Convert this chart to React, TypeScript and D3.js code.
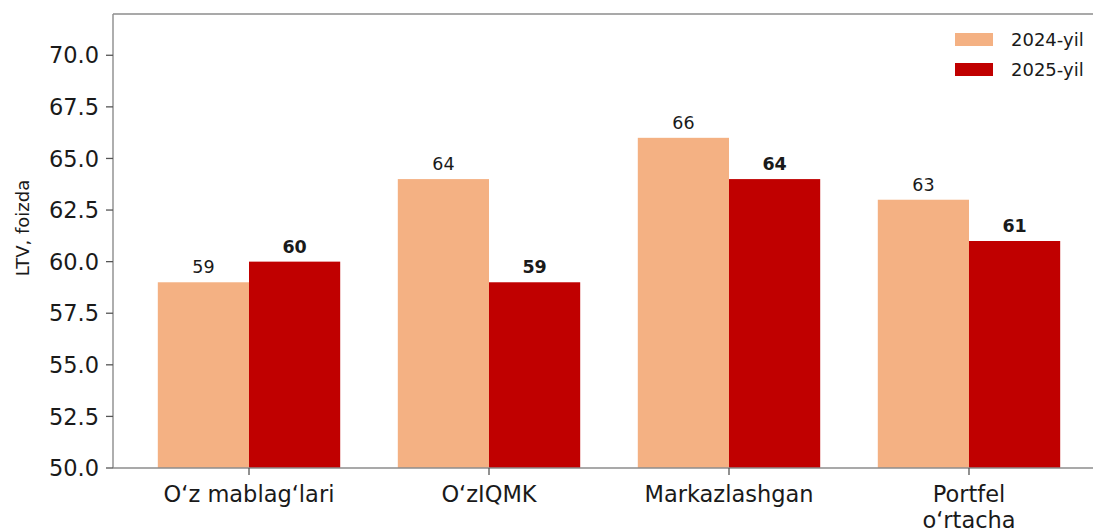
import * as d3 from 'd3';

const categories = ['O‘z mablag‘lari', 'O‘zIQMK', 'Markazlashgan', 'Portfel\no‘rtacha'];
const seriesNames = ['2024-yil', '2025-yil'];
const values2024 = [59, 64, 66, 63];
const values2025 = [60, 59, 64, 61];
const yTicks = [50, 52.5, 55, 57.5, 60, 62.5, 65, 67.5, 70];

const colors = ['#F4B183', '#C00000'];
const font = '"DejaVu Sans", sans-serif';

const width = 1093;
const height = 529;
const plot = { left: 113, right: 1105, top: 14, bottom: 468 };

export default function App() {
  const x = d3
    .scaleBand<string>()
    .domain(categories)
    .range([plot.left, plot.right])
    .paddingInner(0)
    .paddingOuter(0.0667);

  const step = x.step();
  const inner = d3
    .scaleBand<string>()
    .domain(seriesNames)
    .range([-0.38 * step, 0.38 * step]);

  const y = d3.scaleLinear().domain([50, 72]).range([plot.bottom, plot.top]);
  const fmt = d3.format('.1f');

  const series = [values2024, values2025];

  return (
    <svg
      width={width}
      height={height}
      style={{ position: 'absolute', left: 0, top: 0, background: '#fff' }}
      fontFamily={font}
    >
      {/* bars */}
      {series.map((vals, si) =>
        categories.map((c, i) => {
          const cx = (x(c) || 0) + step / 2;
          const bx = cx + (inner(seriesNames[si]) || 0);
          return (
            <rect
              key={`b${si}-${i}`}
              x={bx}
              y={y(vals[i])}
              width={inner.bandwidth()}
              height={plot.bottom - y(vals[i])}
              fill={colors[si]}
            />
          );
        })
      )}

      {/* value labels */}
      {series.map((vals, si) =>
        categories.map((c, i) => {
          const cx = (x(c) || 0) + step / 2;
          const bx = cx + (inner(seriesNames[si]) || 0) + inner.bandwidth() / 2;
          return (
            <text
              key={`l${si}-${i}`}
              x={bx}
              y={y(vals[i]) - 9}
              textAnchor="middle"
              fontSize={17.5}
              fontWeight={si === 1 ? 'bold' : 'normal'}
              fill="#1a1a1a"
            >
              {vals[i]}
            </text>
          );
        })
      )}

      {/* spines */}
      <line x1={plot.left} x2={plot.left} y1={plot.top} y2={plot.bottom} stroke="#8c8c8c" strokeWidth={1.4} />
      <line x1={plot.left} x2={plot.right} y1={plot.bottom} y2={plot.bottom} stroke="#8c8c8c" strokeWidth={1.4} />
      <line x1={plot.left} x2={plot.right} y1={plot.top} y2={plot.top} stroke="#8c8c8c" strokeWidth={1.4} />
      <line x1={plot.right} x2={plot.right} y1={plot.top} y2={plot.bottom} stroke="#8c8c8c" strokeWidth={1.4} />

      {/* y axis */}
      {yTicks.map((t) => (
        <g key={`yt${t}`}>
          <line x1={plot.left - 7} x2={plot.left} y1={y(t)} y2={y(t)} stroke="#555" strokeWidth={1.3} />
          <text x={plot.left - 14} y={y(t)} dy="0.36em" textAnchor="end" fontSize={22.5} fill="#1a1a1a">
            {fmt(t)}
          </text>
        </g>
      ))}
      <text
        transform={`translate(29,228) rotate(-90)`}
        textAnchor="middle"
        fontSize={18}
        fill="#1a1a1a"
      >
        LTV, foizda
      </text>

      {/* x axis */}
      {categories.map((c) => {
        const cx = (x(c) || 0) + step / 2;
        const lines = c.split('\n');
        return (
          <g key={`xt${c}`}>
            <line x1={cx} x2={cx} y1={plot.bottom} y2={plot.bottom + 7} stroke="#555" strokeWidth={1.3} />
            <text x={cx} y={502} textAnchor="middle" fontSize={22.5} fill="#1a1a1a">
              {lines.map((ln, k) => (
                <tspan key={k} x={cx} dy={k === 0 ? 0 : 26}>
                  {ln}
                </tspan>
              ))}
            </text>
          </g>
        );
      })}

      {/* legend */}
      {seriesNames.map((s, i) => (
        <g key={`lg${s}`} transform={`translate(955,${33 + i * 30})`}>
          <rect x={0} y={0} width={38} height={13} fill={colors[i]} />
          <text x={56} y={13} fontSize={18} fill="#1a1a1a">
            {s}
          </text>
        </g>
      ))}
    </svg>
  );
}
